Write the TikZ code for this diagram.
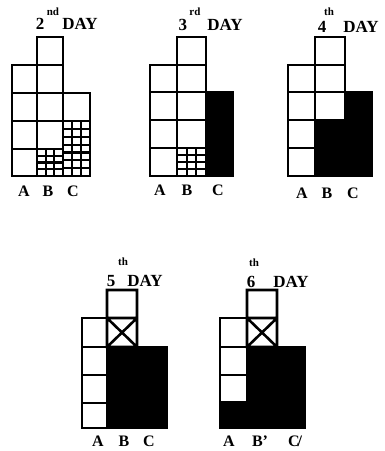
\documentclass[tikz,border=0pt]{standalone}
\usepackage{fontspec}
\setmainfont{Liberation Serif}
\usetikzlibrary{positioning}

\begin{document}
\begin{tikzpicture}[x=1pt,y=-1pt,line join=miter]
  \tikzstyle{cell}=[draw,line width=2.6pt]
  \tikzstyle{fine}=[draw,line width=2.2pt]
  \tikzstyle{day}=[inner sep=0pt,font=\fontsize{17}{17}\selectfont\bfseries]
  \tikzstyle{sup}=[inner sep=0pt,font=\fontsize{11}{11}\selectfont\bfseries]
  \tikzstyle{col}=[inner sep=0pt,font=\fontsize{16}{16}\selectfont\bfseries]
  \useasboundingbox (0,0) rectangle (384,451);
  % 2nd day
  \node[day] (num2) at (40,24) {2};
  \node[sup] (sup2) at (53,12) {nd};
  \node[day] (day2) at (80,24) {DAY};
  \draw[cell] (12,65) rectangle (37,176) (12,93) -- (37,93) (12,121) -- (37,121) (12,149) -- (37,149);
  \draw[cell] (37,37) rectangle (63,176) (37,65) -- (63,65) (37,93) -- (63,93) (37,121) -- (63,121) (37,149) -- (63,149);
  \draw[fine] (45.7,149) -- (45.7,176) (54.3,149) -- (54.3,176) (37,155.7) -- (63,155.7) (37,162.5) -- (63,162.5) (37,169.2) -- (63,169.2);
  \draw[fine] (72,121) -- (72,176) (81,121) -- (81,176) (63,128.9) -- (90,128.9) (63,136.7) -- (90,136.7) (63,144.6) -- (90,144.6)
    (63,152.4) -- (90,152.4) (63,160.3) -- (90,160.3) (63,168.1) -- (90,168.1);
  \draw[cell] (63,93) rectangle (90,176) (63,121) -- (90,121);
  \node[col] (a2) at (24,191) {A};
  \node[col] (b2) at (48,191) {B};
  \node[col] (c2) at (73,191) {C};
  % 3rd day
  \node[day] (num3) at (183,25) {3};
  \node[sup] (sup3) at (195,12) {rd};
  \node[day] (day3) at (225,25) {DAY};
  \draw[cell] (150,65) rectangle (177,176) (150,92) -- (177,92) (150,120) -- (177,120) (150,148) -- (177,148);
  \draw[fine] (186.7,148) -- (186.7,176) (196.3,148) -- (196.3,176) (177,155) -- (206,155) (177,162) -- (206,162) (177,169) -- (206,169);
  \draw[cell] (177,37) rectangle (206,176) (177,65) -- (206,65) (177,92) -- (206,92) (177,120) -- (206,120) (177,148) -- (206,148);
  \fill (206,92) rectangle (233,176);
  \draw[cell] (206,92) rectangle (233,176);
  \node[col] (a3) at (160,190) {A};
  \node[col] (b3) at (187,190) {B};
  \node[col] (c3) at (218,190) {C};
  % 4th day
  \node[day] (num4) at (322,27) {4};
  \node[sup] (sup4) at (329,12) {th};
  \node[day] (day4) at (361,27) {DAY};
  \draw[cell] (288,65) rectangle (315,176) (288,92) -- (315,92) (288,120) -- (315,120) (288,148) -- (315,148);
  \draw[cell] (315,37) rectangle (345,120) (315,65) -- (345,65) (315,92) -- (345,92);
  \fill[draw,line width=2.6pt] (315,120) -- (345,120) -- (345,92) -- (372,92) -- (372,176) -- (315,176) -- cycle;
  \node[col] (a4) at (302,193) {A};
  \node[col] (b4) at (327,193) {B};
  \node[col] (c4) at (353,193) {C};
  % 5th day
  \node[day] (num5) at (111,281) {5};
  \node[sup] (sup5) at (123,262) {th};
  \node[day] (day5) at (145,281) {DAY};
  \draw[cell] (82,318) rectangle (107,428) (82,347) -- (107,347) (82,375) -- (107,375) (82,403) -- (107,403);
  \draw[cell] (107,290) rectangle (137,347) (107,318) -- (137,318) (107,318) -- (137,347) (137,318) -- (107,347);
  \fill[draw,line width=2.6pt] (107,347) rectangle (167,428);
  \node[col] (a5) at (98,441) {A};
  \node[col] (b5) at (124,441) {B};
  \node[col] (c5) at (149,441) {C};
  % 6th day
  \node[day] (num6) at (251,282) {6};
  \node[sup] (sup6) at (254,263) {th};
  \node[day] (day6) at (291,282) {DAY};
  \draw[cell] (220,318) rectangle (247,402) (220,347) -- (247,347) (220,375) -- (247,375);
  \draw[cell] (247,290) rectangle (277,347) (247,318) -- (277,318) (247,318) -- (277,347) (277,318) -- (247,347);
  \fill[draw,line width=2.6pt] (247,347) -- (305,347) -- (305,428) -- (220,428) -- (220,402) -- (247,402) -- cycle;
  \node[col] (a6) at (229,441) {A};
  \node[col] (b6) at (260,441) {B'};
  \node[col] (c6) at (295,441) {C\kern-2pt/};
\end{tikzpicture}
\end{document}
